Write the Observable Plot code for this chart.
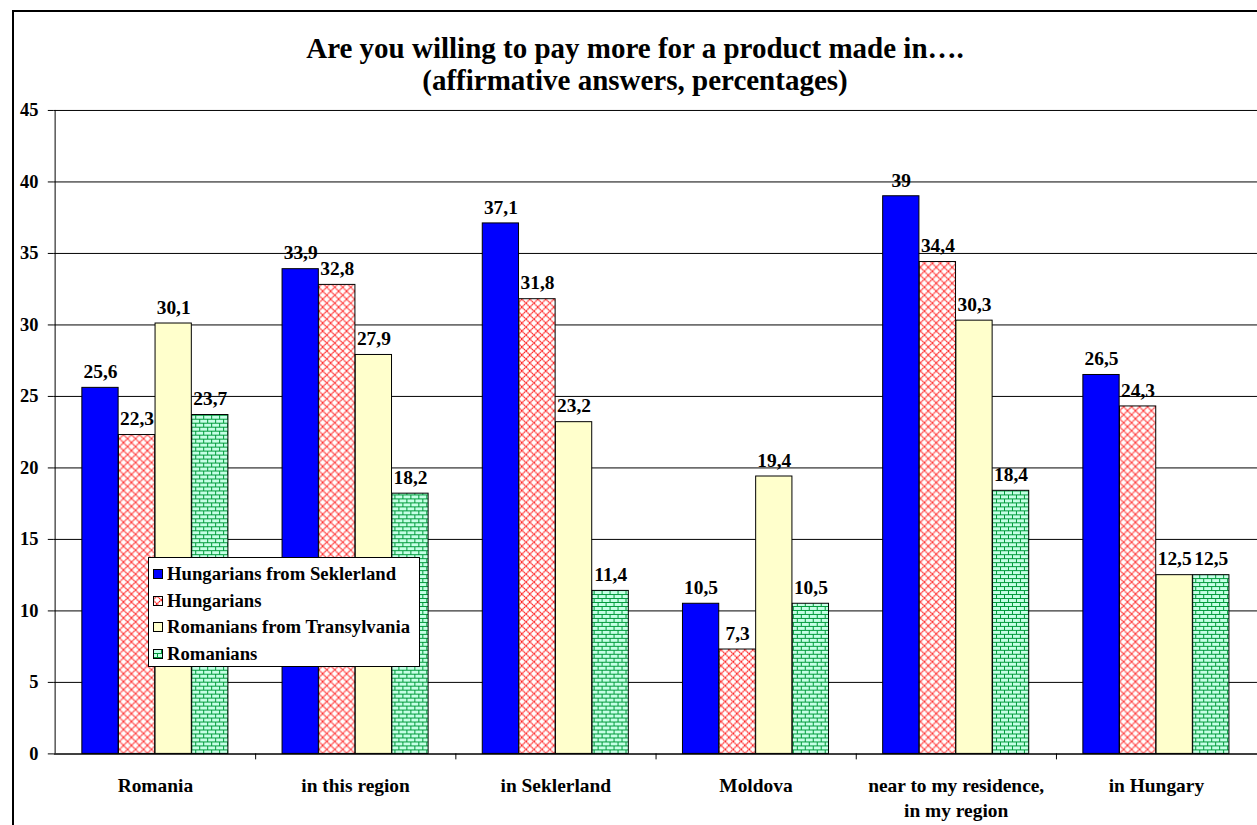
<!DOCTYPE html>
<html>
<head>
<meta charset="utf-8">
<script src="https://cdn.jsdelivr.net/npm/d3@7"></script>
<script src="https://cdn.jsdelivr.net/npm/@observablehq/plot@0.6"></script>
<style>
  html, body { margin: 0; padding: 0; width: 1257px; height: 825px; overflow: hidden; background: #fff; }
  body { position: relative; font-family: "Liberation Serif", Tinos, "Times New Roman", Times, serif; }
  #frame { position: absolute; left: 12px; top: 10px; width: 1270px; height: 840px; border: 2px solid #000; box-sizing: border-box; }
  #title { position: absolute; left: 0; top: 32px; width: 1270px; text-align: center; font-weight: bold; font-size: 29px; line-height: 32px; color: #000; }
  #chart { position: absolute; left: 0; top: 100px; }
  #legend { position: absolute; left: 148px; top: 557px; width: 272px; height: 110px; border: 1px solid #000; background: #fff; box-sizing: border-box; padding-top: 3px; }
  .item { display: flex; align-items: center; height: 26.5px; font-weight: bold; font-size: 18.7px; color: #000; white-space: nowrap; }
  .item svg { margin-left: 4px; margin-right: 4px; }
</style>
</head>
<body>
<svg width="0" height="0" style="position:absolute">
  <defs>
    <pattern id="pRed" width="8" height="8" patternUnits="userSpaceOnUse">
      <rect width="8" height="8" fill="#fff"/>
      <path d="M0,4 L4,0 L8,4 L4,8 Z" fill="none" stroke="#ff1a1a" stroke-width="1.2" stroke-dasharray="1.6,0.5"/>
    </pattern>
    <pattern id="pGreen" width="8" height="8" patternUnits="userSpaceOnUse">
      <rect width="8" height="8" fill="#c6ffe6"/>
      <path d="M0,0.5 H8 M0,4.5 H8 M0.5,0.5 V4.5 M4.5,4.5 V8" fill="none" stroke="#009a3a" stroke-width="1"/>
    </pattern>
  </defs>
</svg>
<div id="frame"></div>
<div id="title">Are you willing to pay more for a product made in….<br>(affirmative answers, percentages)</div>
<div id="chart"></div>
<div id="legend"></div>
<script>
const categories = ["Romania", "in this region", "in Seklerland", "Moldova", "near to my residence,\nin my region", "in Hungary"];
const series = ["Hungarians from Seklerland", "Hungarians", "Romanians from Transylvania", "Romanians"];
const hungariansSeklerland = [25.6, 33.9, 37.1, 10.5, 39, 26.5];
const hungarians = [22.3, 32.8, 31.8, 7.3, 34.4, 24.3];
const romaniansTransylvania = [30.1, 27.9, 23.2, 19.4, 30.3, 12.5];
const romanians = [23.7, 18.2, 11.4, 10.5, 18.4, 12.5];
const yTicks = [0, 5, 10, 15, 20, 25, 30, 35, 40, 45];

const seriesValues = [hungariansSeklerland, hungarians, romaniansTransylvania, romanians];
const fills = ["#0000ff", "url(#pRed)", "#ffffcc", "url(#pGreen)"];

const width = 1262, height = 725;
const mL = 54, mR = 0, mT = 10, mB = 69;
const step = (width - mL - mR) / categories.length;
const groupW = step * 0.73;
const off = (step - groupW) / 2;
const bw = groupW / series.length;
const serif = "'Liberation Serif', Tinos, 'Times New Roman', Times, serif";

const fmt = v => String(v).replace(".", ",");

const marks = [];
marks.push(Plot.ruleY(yTicks.filter(t => t > 0), {stroke: "#000", strokeWidth: 1}));
series.forEach((s, i) => {
  const data = categories.map((c, j) => ({category: c, series: s, value: seriesValues[i][j]}));
  marks.push(Plot.barY(data, {
    x: "category", y: "value", fill: fills[i], stroke: "#000", strokeWidth: 1,
    insetLeft: off + i * bw, insetRight: step - off - (i + 1) * bw
  }));
  marks.push(Plot.text(data, {
    x: "category", y: "value", text: d => fmt(d.value),
    dx: off + (i + 0.5) * bw - step / 2, dy: -16,
    fontWeight: "bold", fontSize: 19.5, fontFamily: serif, fill: "#000"
  }));
});
marks.push(Plot.ruleY([0], {stroke: "#000", strokeWidth: 1.5}));
marks.push(Plot.ruleX([categories[0]], {dx: -step / 2, y1: 0, y2: 45, stroke: "#000", strokeWidth: 1}));
marks.push(Plot.ruleX(categories.slice(0, -1), {dx: step / 2, y1: 0, y2: 0, insetBottom: -6, stroke: "#000"}));
marks.push(Plot.text(categories, {x: d => d, y: 0, text: d => d, dy: 21, lineAnchor: "top", fontWeight: "bold", fontSize: 19.5, fontFamily: serif, fill: "#000", lineHeight: 1.28}));

const chart = Plot.plot({
  width, height,
  marginLeft: mL, marginRight: mR, marginTop: mT, marginBottom: mB,
  style: {fontFamily: serif, fontWeight: "bold", fontSize: "18.5px", color: "#000", background: "transparent", overflow: "visible"},
  x: {domain: categories, padding: 0, axis: null},
  y: {domain: [0, 45], ticks: yTicks, tickSize: 6, tickPadding: 10, label: null, tickFormat: d => String(d)},
  marks
});
document.getElementById("chart").appendChild(chart);

const legend = document.getElementById("legend");
series.forEach((s, i) => {
  const div = document.createElement("div");
  div.className = "item";
  div.innerHTML = `<svg width="10" height="10"><rect x="0.5" y="0.5" width="9" height="9" fill="${fills[i]}" stroke="#000"/></svg><span>${s}</span>`;
  legend.appendChild(div);
});
</script>
</body>
</html>
